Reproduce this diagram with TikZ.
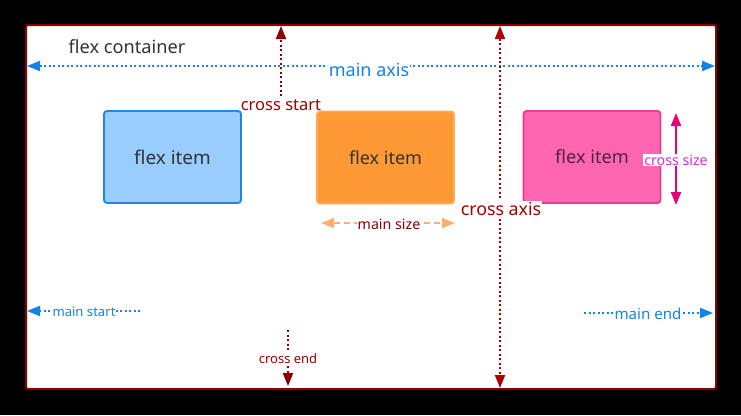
\documentclass[tikz,border=0pt]{standalone}
\usepackage{fontspec}
\setmainfont{Noto Sans}
\usetikzlibrary{arrows.meta}
\definecolor{cred}{RGB}{160,0,0}
\definecolor{cbord}{RGB}{140,0,0}
\definecolor{cblue}{RGB}{20,130,230}
\definecolor{iblue}{RGB}{153,204,255}
\definecolor{iblueb}{RGB}{30,136,229}
\definecolor{iorange}{RGB}{255,153,51}
\definecolor{iorangeb}{RGB}{255,170,90}
\definecolor{msize}{RGB}{255,176,112}
\definecolor{ipink}{RGB}{255,102,178}
\definecolor{ipinkb}{RGB}{230,60,150}
\definecolor{csize}{RGB}{230,0,122}
\definecolor{csizet}{RGB}{204,51,204}
\definecolor{dtext}{RGB}{51,51,51}
\tikzset{
  itembox/.style={draw, line width=1.8pt, rounded corners=3pt, minimum width=137pt, minimum height=92pt, inner sep=0pt, text depth=0pt, text=dtext},
  bluedot/.style={draw=cblue, line width=2pt, dash pattern=on 2pt off 2.5pt},
  reddot/.style={draw=cred, line width=2pt, dash pattern=on 2pt off 2.5pt},
  lbl/.style={fill=white, inner sep=1pt},
}
\begin{document}
\begin{tikzpicture}[x=1pt,y=-1pt]
\fill[black] (0,0) rectangle (741,415);
\useasboundingbox (0,0) rectangle (741,415);
\draw[cbord, line width=2pt, fill=white, rounded corners=2pt] (26,25) rectangle (716,389);
\node[text=dtext, font=\fontsize{18.2}{20}\selectfont] (fc) at (127,47) {flex container};

% main axis
\coordinate (maL) at (27,66);
\coordinate (maR) at (715,66);
\draw[bluedot, {Triangle[length=13pt,width=10pt,fill=cblue]}-{Triangle[length=13pt,width=10pt,fill=cblue]}] (maL) -- (maR);
\node[lbl, text=cblue, font=\fontsize{18}{20}\selectfont] (ma) at (369,70) {main axis};

% cross axis
\coordinate (caT) at (500,26);
\coordinate (caB) at (500,388);
\draw[reddot, draw=cred!85!red, {Triangle[length=13pt,width=10pt,fill=cred!85!red]}-{Triangle[length=13pt,width=10pt,fill=cred!85!red]}] (caT) -- (caB);

% items
\node[itembox, fill=iblue, draw=iblueb, font=\fontsize{18.9}{20}\selectfont] (i1) at (172.5,157) {flex item};
\node[itembox, fill=iorange, draw=iorangeb, font=\fontsize{18}{20}\selectfont] (i2) at (385.5,157.5) {flex item};
\node[itembox, fill=ipink, draw=ipinkb, font=\fontsize{18.2}{20}\selectfont, text={rgb,255:red,80;green,35;blue,60}] (i3) at (592,157) {flex item};

\node[lbl, text=cred, font=\fontsize{17.8}{20}\selectfont] (ca) at (501,209) {cross axis};

% cross start
\coordinate (csB) at (281,96);
\coordinate (csT) at (281,26);
\draw[draw=cbord, line width=2pt, dash pattern=on 2pt off 2.5pt, -{Triangle[length=13pt,width=10pt,fill=cbord]}] (csB) -- (csT);
\node[text=cred, font=\fontsize{16.5}{18}\selectfont, inner sep=1pt] (cs) at (281,105) {cross start};

% cross end
\coordinate (ceT) at (288,330);
\coordinate (ceB) at (288,386);
\draw[draw=cbord, line width=2pt, dash pattern=on 2pt off 2.5pt, -{Triangle[length=13pt,width=10pt,fill=cred]}] (ceT) -- (ceB);
\node[lbl, text=cred, font=\fontsize{13}{15}\selectfont] (ce) at (288,359) {cross end};

% main start
\coordinate (msR) at (140,311);
\coordinate (msL) at (27,311);
\draw[bluedot, -{Triangle[length=13pt,width=10pt,fill=cblue]}] (msR) -- (msL);
\node[lbl, text=cblue, font=\fontsize{13.1}{15}\selectfont] (ms) at (84,312) {main start};

% main end
\coordinate (meL) at (584,313);
\coordinate (meR) at (713,313);
\draw[bluedot, -{Triangle[length=13pt,width=10pt,fill=cblue]}] (meL) -- (meR);
\node[lbl, text=cblue, font=\fontsize{15.1}{17}\selectfont] (me) at (648,314) {main end};

% main size
\coordinate (mzL) at (321,223);
\coordinate (mzR) at (455,223);
\draw[draw=msize, line width=2pt, dash pattern=on 6pt off 4pt, {Triangle[length=13pt,width=10pt,fill=msize]}-{Triangle[length=13pt,width=10pt,fill=msize]}] (mzL) -- (mzR);
\node[lbl, text=cred!85!black, font=\fontsize{14.2}{16}\selectfont] (mz) at (389,224) {main size};

% cross size
\coordinate (czT) at (676,113);
\coordinate (czB) at (676,205);
\draw[draw=csize, line width=2pt, {Triangle[length=13pt,width=10pt,fill=csize]}-{Triangle[length=13pt,width=10pt,fill=csize]}] (czT) -- (czB);
\node[lbl, text=csizet, font=\fontsize{14.2}{16}\selectfont] (cz) at (676,160) {cross size};
\end{tikzpicture}
\end{document}
